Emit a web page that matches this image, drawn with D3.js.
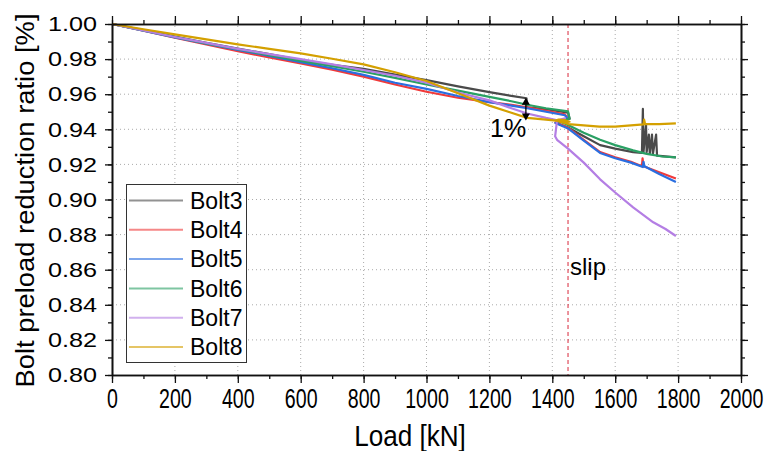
<!DOCTYPE html>
<html>
<head>
<meta charset="utf-8">
<script src="https://cdn.jsdelivr.net/npm/d3@7"></script>
<style>
  body { margin: 0; background: #fff; }
  svg { font-family: Arial, "Liberation Sans", sans-serif; }
</style>
</head>
<body>
<svg id="chart"></svg>
<script>
// data: [load kN, preload ratio]
const bolt3 = [[0,1],[100,.9965],[200,.9928],[300,.9893],[400,.986],[500,.9828],[600,.9795],[700,.9768],[800,.9745],[900,.9712],[1000,.968],[1100,.9645],[1200,.9612],[1270,.959],[1318,.9577],[1320,.9525],[1380,.9515],[1450,.9495],[1455,.946],[1430,.9445],[1415,.9435],[1450,.941],[1500,.936],[1552,.931],[1600,.929],[1657,.927],[1685,.9265],[1688,.9516],[1690,.927],[1698,.9425],[1700,.927],[1707,.937],[1710,.926],[1717,.937],[1720,.926],[1730,.937],[1733,.925],[1793,.924]]
const bolt4 = [[0,1],[100,.9962],[200,.9922],[300,.9883],[400,.9845],[500,.981],[600,.9776],[700,.974],[800,.970],[900,.9655],[1000,.9614],[1100,.958],[1200,.9555],[1270,.954],[1320,.9525],[1380,.9505],[1440,.9485],[1450,.946],[1410,.9438],[1450,.941],[1500,.934],[1552,.927],[1600,.924],[1650,.9215],[1685,.919],[1687,.9235],[1690,.919],[1740,.9155],[1793,.912]]
const bolt5 = [[0,1],[100,.9962],[200,.9924],[300,.9888],[400,.9853],[500,.9818],[600,.9783],[700,.9748],[800,.971],[900,.9665],[1000,.963],[1100,.959],[1200,.9555],[1270,.9535],[1320,.952],[1380,.950],[1440,.948],[1450,.946],[1410,.9436],[1450,.9405],[1500,.9335],[1552,.9265],[1600,.9235],[1650,.921],[1688,.9185],[1690,.9215],[1693,.919],[1740,.9145],[1793,.910]]
const bolt6 = [[0,1],[100,.9963],[200,.9926],[300,.989],[400,.9856],[500,.9822],[600,.979],[700,.976],[800,.9728],[900,.9693],[1000,.9655],[1100,.962],[1200,.9585],[1270,.956],[1320,.954],[1380,.952],[1450,.9502],[1455,.946],[1420,.9448],[1450,.9425],[1500,.938],[1552,.934],[1600,.931],[1657,.928],[1700,.926],[1750,.9245],[1793,.924]]
const bolt7 = [[0,1],[100,.9963],[200,.9926],[300,.9892],[400,.9858],[500,.9828],[600,.980],[700,.977],[800,.9738],[900,.9705],[1000,.9665],[1100,.961],[1200,.9565],[1270,.952],[1320,.949],[1380,.9465],[1420,.945],[1440,.9462],[1415,.945],[1409,.936],[1415,.934],[1450,.929],[1500,.921],[1552,.9115],[1600,.904],[1657,.8955],[1721,.887],[1760,.8832],[1793,.8792]]
const bolt8 = [[0,1],[100,.997],[200,.9941],[300,.9912],[400,.9884],[500,.9858],[600,.9833],[700,.9802],[800,.977],[900,.9725],[1000,.9675],[1100,.9605],[1200,.9535],[1260,.950],[1320,.9465],[1380,.9455],[1420,.9448],[1455,.9443],[1440,.9452],[1420,.9455],[1410,.945],[1450,.943],[1500,.9422],[1550,.9415],[1600,.9415],[1650,.9422],[1690,.9428],[1692,.9455],[1695,.943],[1740,.943],[1793,.9434]]

const seriesNames = ['Bolt3', 'Bolt4', 'Bolt5', 'Bolt6', 'Bolt7', 'Bolt8']
const seriesData = [bolt3, bolt4, bolt5, bolt6, bolt7, bolt8]
const colors = ['#4a4a4a', '#f03a3a', '#2a6ee0', '#2aa064', '#b47ee4', '#d4a000']

const xTicks = d3.range(0, 2001, 200)
const yTicks = d3.range(0.80, 1.001, 0.02)
const slipLoad = 1450

const width = 772, height = 451
const margin = { top: 24, right: 31, bottom: 76, left: 112 }

const svg = d3.select('#chart').attr('width', width).attr('height', height)

const x = d3.scaleLinear().domain([0, 2000]).range([margin.left, width - margin.right])
const y = d3.scaleLinear().domain([0.80, 1.00]).range([height - margin.bottom, margin.top])

//grid
const grid = svg.append('g').attr('stroke', '#aaa').attr('stroke-dasharray', '1,3')
grid.selectAll('.gx').data(xTicks.slice(1, -1)).join('line')
  .attr('x1', d => x(d)).attr('x2', d => x(d))
  .attr('y1', y(0.80)).attr('y2', y(1.00))
grid.selectAll('.gy').data(yTicks.slice(1, -1)).join('line')
  .attr('y1', d => y(d)).attr('y2', d => y(d))
  .attr('x1', x(0)).attr('x2', x(2000))

//slip line
svg.append('line')
  .attr('x1', x(slipLoad)).attr('x2', x(slipLoad))
  .attr('y1', y(1.00)).attr('y2', y(0.80))
  .attr('stroke', '#d8283a').attr('stroke-dasharray', '4,3').attr('stroke-width', 1)

//lines
const line = d3.line().x(d => x(d[0])).y(d => y(d[1]))
svg.append('g').selectAll('path').data(seriesData).join('path')
  .attr('d', line)
  .attr('fill', 'none')
  .attr('stroke', (d, i) => colors[i])
  .attr('stroke-width', 2.2)
  .attr('stroke-linejoin', 'round')

//axes
const minorX = d3.range(0, 2001, 100)
const minorY = d3.range(0.80, 1.001, 0.01)
const axisStyle = g => {
  g.select('.domain').attr('stroke', '#111').attr('stroke-width', 1.6)
  g.selectAll('.tick line').attr('stroke', '#111').attr('stroke-width', 1.3)
}

svg.append('g').attr('transform', `translate(0,${y(0.80)})`)
  .call(d3.axisBottom(x).tickValues(minorX).tickSize(4).tickFormat('').tickSizeOuter(0)).call(axisStyle)
const xAxis = svg.append('g').attr('transform', `translate(0,${y(0.80)})`)
  .call(d3.axisBottom(x).tickValues(xTicks).tickSize(8).tickSizeOuter(0).tickPadding(5).tickFormat(d3.format('d'))).call(axisStyle)
xAxis.selectAll('text')
  .attr('font-size', 28).attr('fill', '#000')
  .attr('transform', 'scale(0.7,1)')

svg.append('g').attr('transform', `translate(0,${y(1.00)})`)
  .call(d3.axisTop(x).tickValues(minorX).tickSize(4).tickFormat('').tickSizeOuter(0)).call(axisStyle)
svg.append('g').attr('transform', `translate(0,${y(1.00)})`)
  .call(d3.axisTop(x).tickValues(xTicks).tickSize(8).tickFormat('').tickSizeOuter(0)).call(axisStyle)

svg.append('g').attr('transform', `translate(${x(0)},0)`)
  .call(d3.axisLeft(y).tickValues(minorY).tickSize(4).tickFormat('').tickSizeOuter(0)).call(axisStyle)
const yAxis = svg.append('g').attr('transform', `translate(${x(0)},0)`)
  .call(d3.axisLeft(y).tickValues(yTicks).tickSize(7).tickSizeOuter(0).tickPadding(5.5).tickFormat(d3.format('.2f'))).call(axisStyle)
yAxis.selectAll('text')
  .attr('font-size', 21).attr('fill', '#000')
  .attr('transform', 'scale(1.2,1)')

svg.append('g').attr('transform', `translate(${x(2000)},0)`)
  .call(d3.axisRight(y).tickValues(minorY).tickSize(4).tickFormat('').tickSizeOuter(0)).call(axisStyle)
svg.append('g').attr('transform', `translate(${x(2000)},0)`)
  .call(d3.axisRight(y).tickValues(yTicks).tickSize(7).tickFormat('').tickSizeOuter(0)).call(axisStyle)

//axis titles
svg.append('text')
  .attr('x', 410).attr('y', 446)
  .attr('text-anchor', 'middle').attr('font-size', 29)
  .attr('transform', 'translate(410,0) scale(0.9,1) translate(-410,0)')
  .text('Load [kN]')

svg.append('text')
  .attr('transform', `translate(34,${(y(0.8) + y(1)) / 2 + 1}) rotate(-90)`)
  .attr('text-anchor', 'middle').attr('font-size', 25)
  .attr('textLength', 374).attr('lengthAdjust', 'spacingAndGlyphs')
  .text('Bolt preload reduction ratio [%]')

//annotations
svg.append('text').attr('x', 490).attr('y', 137).attr('font-size', 25).text('1%')
svg.append('text').attr('x', 570).attr('y', 275).attr('font-size', 24).text('slip')

const arrowX = x(1316)
svg.append('line')
  .attr('x1', arrowX).attr('x2', arrowX)
  .attr('y1', y(0.9565)).attr('y2', y(0.9465))
  .attr('stroke', '#000').attr('stroke-width', 1.3)
const head = d3.symbol().type(d3.symbolTriangle).size(28)
svg.append('path').attr('d', head).attr('transform', `translate(${arrowX},${y(0.9565) + 2})`)
svg.append('path').attr('d', head).attr('transform', `translate(${arrowX},${y(0.9465) - 2}) rotate(180)`)

//legend
const legend = svg.append('g')
legend.append('rect')
  .attr('x', 126.5).attr('y', 184.5).attr('width', 120).attr('height', 178)
  .attr('fill', '#fff').attr('stroke', '#333').attr('stroke-width', 1)
const items = legend.selectAll('g.item').data(seriesNames).join('g')
  .attr('transform', (d, i) => `translate(0,${200.5 + i * 29.3})`)
items.append('line')
  .attr('x1', 129).attr('x2', 183)
  .attr('stroke', (d, i) => colors[i]).attr('stroke-width', 2).attr('opacity', 0.6)
items.append('text')
  .attr('x', 190).attr('dy', '0.36em').attr('font-size', 23)
  .text(d => d)
</script>
</body>
</html>
